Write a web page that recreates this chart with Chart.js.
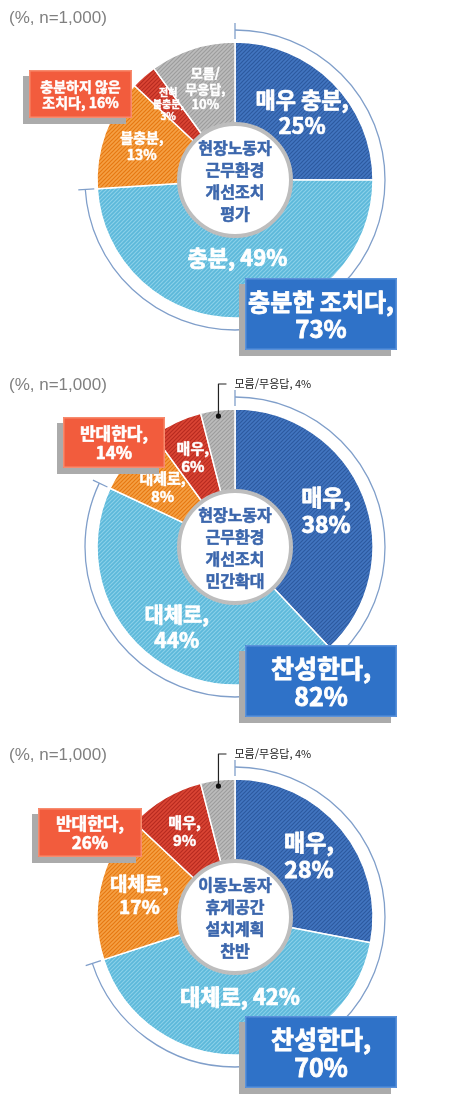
<!DOCTYPE html>
<html lang="ko">
<head>
<meta charset="utf-8">
<script src="https://cdn.jsdelivr.net/npm/chart.js@4.4.1/dist/chart.umd.min.js"></script>
<style>
  html, body { margin: 0; padding: 0; background: #fff; }
  body { width: 449px; height: 1099px; overflow: hidden; position: relative; }
  .wrap { position: absolute; left: 0; width: 449px; height: 366px; }
</style>
</head>
<body>
<div class="wrap" style="top:0"><canvas id="c1"></canvas></div>
<div class="wrap" style="top:367px"><canvas id="c2"></canvas></div>
<div class="wrap" style="top:737px"><canvas id="c3"></canvas></div>
<script>
// 데이터
const header = '(%, n=1,000)';

const titles1 = ['현장노동자', '근무환경', '개선조치', '평가'];
const categories1 = ['매우 충분', '충분', '불충분', '전혀 불충분', '모름/무응답'];
const values1 = [25, 49, 13, 3, 10];
const groups1 = ['충분한 조치다', '충분하지 않은 조치다'];
const groupValues1 = [73, 16];

const titles2 = ['현장노동자', '근무환경', '개선조치', '민간확대'];
const categories2 = ['매우', '대체로', '대체로', '매우', '모름/무응답'];
const values2 = [38, 44, 8, 6, 4];
const groups2 = ['찬성한다', '반대한다'];
const groupValues2 = [82, 14];

const titles3 = ['이동노동자', '휴게공간', '설치계획', '찬반'];
const categories3 = ['매우', '대체로', '대체로', '매우', '모름/무응답'];
const values3 = [28, 42, 17, 9, 4];
const groups3 = ['찬성한다', '반대한다'];
const groupValues3 = [70, 26];

// 스타일
const KR = '"Noto Sans CJK KR", "Noto Sans", sans-serif';

function hatch(base, line) {
    const s = 4;
    const c = document.createElement('canvas');
    c.width = s; c.height = s;
    const g = c.getContext('2d');
    g.fillStyle = base;
    g.fillRect(0, 0, s, s);
    g.strokeStyle = line;
    g.lineWidth = 1.2;
    g.beginPath();
    g.moveTo(0, s); g.lineTo(s, 0);
    g.moveTo(-1, 1); g.lineTo(1, -1);
    g.moveTo(s - 1, s + 1); g.lineTo(s + 1, s - 1);
    g.stroke();
    return g.createPattern(c, 'repeat');
}

const fills = [
    hatch('#4275c0', '#2d5a9f'),
    hatch('#5cb8da', '#8ad0e9'),
    hatch('#f5a044', '#e67812'),
    hatch('#da4534', '#b72b20'),
    hatch('#bcbcbc', '#9d9d9d')
];

const layouts = [
    {
        labelR: [95, 78, 99, 101, 96],
        fonts: [22, 22, 14, 10, 13],
        modes: ['stack', 'inline', 'stack', 'words', 'words'],
        agreeBox: { x: 245, y: 278, w: 152, h: 72, font: 24, mode: 'stack' },
        disagreeBox: { x: 29, y: 70, w: 103, h: 48, font: 14, mode: 'tail' },
        callout: false
    },
    {
        labelR: [98, 99, 94, 99, 0],
        fonts: [23, 21, 15, 15, 0],
        modes: ['stack', 'stack', 'stack', 'stack', 'none'],
        agreeBox: { x: 245, y: 278, w: 152, h: 72, font: 25, mode: 'stack' },
        disagreeBox: { x: 63, y: 50, w: 102, h: 51, font: 17, mode: 'stack' },
        callout: true
    },
    {
        labelR: [96, 80, 98, 99, 0],
        fonts: [23, 22, 19, 15, 0],
        modes: ['stack', 'inline', 'stack', 'stack', 'none'],
        agreeBox: { x: 245, y: 279, w: 152, h: 72, font: 25, mode: 'stack' },
        disagreeBox: { x: 38, y: 71, w: 104, h: 49, font: 17, mode: 'stack' },
        callout: true
    }
];

function segLines(name, v, mode) {
    if (mode === 'inline') return [name + ', ' + v + '%'];
    if (mode === 'stack') return [name + ',', v + '%'];
    if (mode === 'words') {
        const p = name.split(/(?<=\/)| /);
        p[p.length - 1] += ',';
        return p.concat(v + '%');
    }
    return [];
}

function boxLines(name, v, mode) {
    if (mode === 'tail') {
        const i = name.lastIndexOf(' ');
        return [name.slice(0, i), name.slice(i + 1) + ', ' + v + '%'];
    }
    return [name + ',', v + '%'];
}

// 굵은 글씨 (살짝 테두리를 더해 두껍게)
function drawLines(ctx, lines, x, y, size, color, lh) {
    ctx.fillStyle = color;
    ctx.strokeStyle = color;
    ctx.lineWidth = Math.max(0.4, size / 30);
    ctx.lineJoin = 'round';
    ctx.font = 'bold ' + size + 'px ' + KR;
    ctx.textAlign = 'center';
    ctx.textBaseline = 'middle';
    const step = size * lh;
    lines.forEach((t, i) => {
        const ty = y + (i - (lines.length - 1) / 2) * step;
        ctx.strokeText(t, x, ty);
        ctx.fillText(t, x, ty);
    });
}

function drawBox(ctx, b, fill, edge, lines) {
    ctx.fillStyle = '#ababab';
    ctx.fillRect(b.x - 6, b.y + 6, b.w, b.h);
    ctx.fillStyle = fill;
    ctx.fillRect(b.x, b.y, b.w, b.h);
    ctx.strokeStyle = edge;
    ctx.lineWidth = 1.5;
    ctx.strokeRect(b.x + 0.75, b.y + 0.75, b.w - 1.5, b.h - 1.5);
    drawLines(ctx, lines, b.x + b.w / 2, b.y + b.h / 2 + 1, b.font, '#fff', 1.12);
}

function makeDecor(lay, titles, categories, values, groups, groupValues) {
    return {
        id: 'decor',
        afterDatasetsDraw(chart) {
            const ctx = chart.ctx;
            const arcs = chart.getDatasetMeta(0).data;
            const cx = arcs[0].x, cy = arcs[0].y;
            const R = arcs[0].outerRadius;
            ctx.save();

            // 가운데 원
            ctx.beginPath();
            ctx.arc(cx, cy, 56, 0, Math.PI * 2);
            ctx.fillStyle = '#fff';
            ctx.fill();
            ctx.lineWidth = 4;
            ctx.strokeStyle = '#bdbdbd';
            ctx.stroke();
            drawLines(ctx, titles, cx, cy + 1, 16, '#3b66ac', 1.38);

            // 조각 라벨
            arcs.forEach((a, i) => {
                const lines = segLines(categories[i], values[i], lay.modes[i]);
                if (!lines.length) return;
                const mid = (a.startAngle + a.endAngle) / 2;
                const x = cx + lay.labelR[i] * Math.cos(mid);
                const y = cy + lay.labelR[i] * Math.sin(mid);
                drawLines(ctx, lines, x, y, lay.fonts[i], '#fff', 1.2);
            });

            // 바깥 괄호 호
            const r = 150;
            const a0 = arcs[0].startAngle, a1 = arcs[1].endAngle;
            ctx.strokeStyle = '#809fca';
            ctx.lineWidth = 1.3;
            ctx.beginPath();
            ctx.arc(cx, cy, r, a0, a1);
            ctx.stroke();
            [a0, a1].forEach(t => {
                ctx.beginPath();
                ctx.moveTo(cx + (r - 9) * Math.cos(t), cy + (r - 9) * Math.sin(t));
                ctx.lineTo(cx + (r + 7) * Math.cos(t), cy + (r + 7) * Math.sin(t));
                ctx.stroke();
            });

            // 모름/무응답 지시선
            if (lay.callout) {
                const g = arcs[4];
                const mid = (g.startAngle + g.endAngle) / 2;
                const dx = cx + (R - 6) * Math.cos(mid);
                const dy = cy + (R - 6) * Math.sin(mid);
                const ty = 17;
                ctx.strokeStyle = '#222';
                ctx.lineWidth = 1.2;
                ctx.beginPath();
                ctx.moveTo(dx, dy);
                ctx.lineTo(dx, ty);
                ctx.lineTo(dx + 8, ty);
                ctx.stroke();
                ctx.beginPath();
                ctx.arc(dx, dy, 2.6, 0, Math.PI * 2);
                ctx.fillStyle = '#111';
                ctx.fill();
                ctx.font = '11px ' + KR;
                ctx.textAlign = 'left';
                ctx.textBaseline = 'middle';
                ctx.fillStyle = '#222';
                ctx.fillText(categories[4] + ', ' + values[4] + '%', dx + 16, ty);
            }

            // 요약 상자
            drawBox(ctx, lay.agreeBox, '#2f72c8', '#5b92da',
                boxLines(groups[0], groupValues[0], lay.agreeBox.mode));
            drawBox(ctx, lay.disagreeBox, '#f25c3d', '#f78b6e',
                boxLines(groups[1], groupValues[1], lay.disagreeBox.mode));

            // 머리글
            ctx.font = '17px "Liberation Sans", sans-serif';
            ctx.textAlign = 'left';
            ctx.textBaseline = 'middle';
            ctx.fillStyle = '#808080';
            ctx.fillText(header, 9, 18);

            ctx.restore();
        }
    };
}

function makeChart(id, lay, titles, categories, values, groups, groupValues) {
    const ctx = document.getElementById(id).getContext('2d');
    return new Chart(ctx, {
        type: 'doughnut',
        data: {
            labels: categories,
            datasets: [{
                data: values,
                backgroundColor: fills,
                borderColor: '#fff',
                borderWidth: 1.5
            }]
        },
        options: {
            responsive: true,
            maintainAspectRatio: false,
            animation: false,
            radius: 138,
            cutout: 56,
            layout: { padding: { left: 87, right: 66, top: 32, bottom: 38 } },
            plugins: {
                legend: { display: false },
                tooltip: { enabled: false }
            }
        },
        plugins: [makeDecor(lay, titles, categories, values, groups, groupValues)]
    });
}

document.addEventListener('DOMContentLoaded', function() {
    makeChart('c1', layouts[0], titles1, categories1, values1, groups1, groupValues1);
    makeChart('c2', layouts[1], titles2, categories2, values2, groups2, groupValues2);
    makeChart('c3', layouts[2], titles3, categories3, values3, groups3, groupValues3);
});
</script>
</body>
</html>
